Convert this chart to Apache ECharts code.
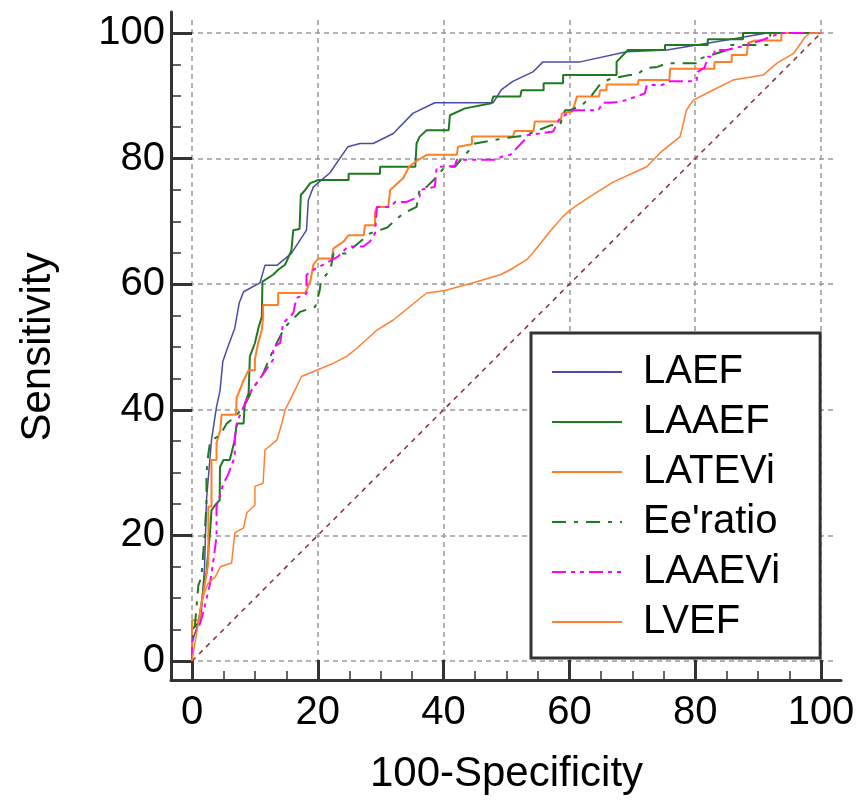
<!DOCTYPE html>
<html>
<head>
<meta charset="utf-8">
<script src="https://cdn.jsdelivr.net/npm/echarts@6/dist/echarts.min.js"></script>
<style>html,body{margin:0;padding:0;background:#fff;}#c{width:859px;height:800px;}</style>
</head>
<body>
<div id="c"></div>
<script>
const seriesNames = ['LAEF', 'LAAEF', 'LATEVi', "Ee'ratio", 'LAAEVi', 'LVEF'];
const xTickValues = [0, 20, 40, 60, 80, 100];
const yTickValues = [0, 20, 40, 60, 80, 100];

const LAEF = [[0,0],[0,3],[1,6],[1.5,8],[2,15],[2.2,22],[2.3,25.6],[3.1,35.2],[3.9,40.5],[4.45,43],[4.9,47.7],[5.7,50],[6.8,53],[7.5,57],[8.2,58.8],[10.8,60.2],[11.6,63],[13.5,63],[15.8,64.9],[18.2,68.6],[18.5,73.4],[19.3,75.5],[21.9,77.7],[24.8,81.9],[26.7,82.4],[28.8,82.4],[32,84],[35.1,87.2],[38.6,88.9],[47.9,88.9],[49.2,91],[51,92.3],[54.2,93.8],[55.8,95.4],[61.7,95.4],[69.1,97],[75.5,97.3],[85,98.9],[91.4,100],[100,100]];

const LAAEF = [[0,0],[0,5],[1,6],[1.5,9],[2,13],[2.3,14],[2.9,21],[3.1,24],[3.9,25.1],[4.4,25.6],[4.45,30.9],[5,32],[6,32],[6.8,35.2],[7.1,37.8],[8.2,37.8],[8.4,41],[9,42.6],[9.2,48.5],[10,50.6],[10.6,53.2],[11.1,54.8],[11.2,60.4],[12.9,61.5],[13.7,62.3],[14.8,63.1],[15.8,65.4],[16.1,68.6],[17.1,68.8],[17.3,74.2],[18,75],[18.8,76.1],[20.1,76.6],[24.9,76.6],[24.9,77.6],[29.9,77.6],[29.9,78.7],[35.5,78.7],[35.7,82.4],[36.2,83.5],[37.3,84.5],[40.8,84.5],[41,86.9],[43.4,88],[47.6,88.8],[47.9,89.9],[52.2,89.9],[52.4,90.9],[55.9,90.9],[55.9,92],[59,92],[59,93.3],[67.5,93.3],[67.5,95.4],[69.3,97.3],[75.2,97.3],[75.2,98.1],[82,98.1],[82,99],[87.6,99],[87.6,100],[100,100]];

const LATEVi = [[0,0],[0,6.5],[1.3,6.5],[1.3,8],[1.8,10.8],[2.6,15.6],[2.6,24.6],[3.1,24.6],[3.1,32],[3.9,32],[3.9,34.7],[4.5,36.8],[4.7,39.2],[7,39.2],[7.1,41.9],[8.2,44.7],[9,46.3],[10,46.3],[10,48],[10.5,50.6],[11.1,52.7],[11.3,54.8],[11.3,56.7],[13.7,56.7],[13.7,58.6],[18,58.6],[18.8,60.4],[19.3,63.1],[20.1,64.1],[22.2,64.1],[22.5,65.7],[24.1,66.8],[24.9,67.8],[27.3,67.8],[27.5,69.4],[29.1,69.4],[29.1,71.5],[29.4,72.3],[31.2,72.3],[31.5,75],[33.6,76.9],[34.5,78.7],[35.5,79.5],[37.3,80.6],[42.1,80.6],[42.3,81.9],[44.5,82.3],[44.5,83.5],[51,83.5],[51.3,84.4],[54.3,84.4],[54.5,85.9],[58.6,85.9],[58.8,87.2],[60.5,87.5],[61.2,89.9],[64.7,89.9],[64.9,90.9],[65.9,90.9],[65.9,91.8],[70.9,91.8],[71,92.5],[75.9,92.5],[76,94.3],[83,94.3],[83.1,95.4],[85.8,95.4],[85.8,96.5],[88.2,96.5],[88.4,98.4],[89.5,98.8],[93.7,98.8],[93.7,100],[100,100]];

const EeRatio = [[0,0],[0,3],[0.5,6],[1,12],[1.5,13.4],[2,20],[2.3,25],[2.3,30],[2.6,33],[2.9,35],[4.5,36],[5.5,37.8],[7,39],[8.5,41],[9.2,42.4],[9.5,43.2],[11.1,45.3],[12.9,49.5],[13.7,51.1],[14.8,53.2],[17.2,55.6],[19.6,56.4],[20.3,59],[20.5,60.5],[22,62.3],[22.5,64.9],[24.5,64.9],[28.3,68.1],[31,69],[33.6,71.3],[35.7,72.3],[36.2,75.2],[37.3,75.5],[38.6,76.8],[40.2,78.7],[41.8,78.7],[42.9,80],[45,82.4],[50,83.3],[53,83.7],[57,85.3],[58.5,85.3],[59.3,87.7],[60.1,87.7],[62,88.5],[63.5,90],[65,92],[66.5,92.7],[69.6,93.3],[70.7,93.3],[72,94.4],[74,94.6],[75.5,95.2],[80.8,95.2],[81,96],[85.1,97.3],[85.5,98.1],[91.5,98.1],[92,100],[100,100]];

const LAAEVi = [[0,0],[0,3],[0.8,5],[1.3,6],[2,8.6],[2.8,12],[3.4,16],[3.9,19.8],[3.9,24.6],[4.2,25.6],[5,28.3],[5.7,29.6],[6.8,32.5],[6.8,35.7],[7.3,38.4],[8.7,41.6],[9.5,43.2],[9.7,43.5],[11.6,46.1],[12.9,48],[12.9,50],[14,50.6],[14.5,53.8],[16.1,55.4],[16.6,57.8],[18.2,58.5],[18.2,61.5],[19.3,62.3],[20.3,62.8],[23.2,64.4],[24.8,66],[27.2,66],[28.3,66.8],[29.1,68.1],[29.4,72.3],[31.5,72.3],[32.3,73.1],[34.1,73.1],[36.2,74],[36.2,75],[38.6,75.5],[38.9,78.7],[41.8,78.8],[42.1,79.8],[48.4,79.8],[49.2,80.3],[50.6,80.6],[52.9,83],[53.2,83.7],[57.4,84.3],[58.5,86.5],[60.6,87.7],[64.6,87.7],[65.3,88.9],[68,89],[70.7,89.9],[72,90.4],[72.3,91.7],[74.7,91.7],[76,92.3],[80.2,92.3],[80.4,93.8],[81.5,94.5],[82,96.2],[83,96.2],[83.1,97.3],[85,97.3],[88,98],[91,99],[93.5,100],[100,100]];

const LVEF = [[0,0],[0.5,3],[1,6],[1.5,9],[2,11],[2.6,12.4],[3.7,13.4],[4.5,15],[6.3,15.6],[6.8,20.4],[8.2,21.2],[8.7,23.6],[10,24.8],[10,27.8],[11.3,28.3],[11.6,33.6],[13.5,35.2],[14.3,37.9],[14.8,40],[16.4,43.2],[17.4,45.3],[19.8,46.3],[22.4,47.4],[24.6,48.5],[26.2,49.8],[29.4,52.7],[32,54.3],[37.3,58.6],[40.2,59],[45,60.3],[49,61.5],[50.6,62.3],[53.2,63.9],[54.2,65],[57,68.5],[59,70.8],[60.1,71.8],[63,73.8],[67,76.3],[72.3,78.7],[74.4,80.9],[77.6,83.5],[78.6,87.7],[79.7,89.3],[83,91],[86,92.5],[90.8,93.3],[93,95.2],[95.6,96.7],[97.5,99.4],[98.3,100],[100,100]];

const diagonal = [[0,0],[100,100]];

const FONT = 'Liberation Sans';
const axisColor = '#333';
const gridLineStyle = { color: '#999', width: 1.5, type: [5, 4] };

function rocSeries(name, data, color, width, dash) {
  return {
    name: name, type: 'line', data: data, xAxisIndex: 0, yAxisIndex: 0,
    symbol: 'none', clip: false, animation: false,
    lineStyle: { color: color, width: width, type: dash || 'solid' },
    itemStyle: { color: color }
  };
}
function hiddenAxis(gridIndex) {
  return { type: 'value', gridIndex: gridIndex, min: 0, max: 100, show: false };
}

const chart = echarts.init(document.getElementById('c'));
chart.setOption({
  backgroundColor: '#fff',
  animation: false,
  grid: [
    { left: 192, top: 33, width: 629, height: 628 },   // data
    { left: 171, top: 12, width: 670, height: 668 },   // frame lines
    { left: 192, top: 20, width: 629, height: 660 },   // x ticks / vertical grid
    { left: 171, top: 33, width: 662, height: 628 }    // y ticks / horizontal grid
  ],
  xAxis: [
    { type: 'value', gridIndex: 0, min: 0, max: 100, interval: 20,
      axisLine: { show: false }, axisTick: { show: false }, axisLabel: { show: false }, splitLine: { show: false } },
    { type: 'value', gridIndex: 1, min: 0, max: 1,
      axisLine: { show: true, lineStyle: { color: axisColor, width: 3 } },
      axisTick: { show: false }, axisLabel: { show: false }, splitLine: { show: false } },
    { type: 'value', gridIndex: 2, min: 0, max: 100, interval: 20,
      axisLine: { show: false },
      axisTick: { show: true, inside: true, length: 19, lineStyle: { color: axisColor, width: 3 } },
      minorTick: { show: true, splitNumber: 4, length: 8, lineStyle: { color: axisColor, width: 1.5 } },
      axisLabel: { margin: 14, fontSize: 40, fontFamily: FONT, color: '#000',
        formatter: function (v) { return xTickValues.indexOf(v) >= 0 ? String(v) : ''; } },
      splitLine: { show: true, lineStyle: gridLineStyle },
      name: '100-Specificity', nameLocation: 'middle', nameGap: 74,
      nameTextStyle: { fontSize: 42, fontFamily: FONT, color: '#000' } },
    hiddenAxis(3)
  ],
  yAxis: [
    { type: 'value', gridIndex: 0, min: 0, max: 100, interval: 20,
      axisLine: { show: false }, axisTick: { show: false }, axisLabel: { show: false }, splitLine: { show: false } },
    { type: 'value', gridIndex: 1, min: 0, max: 1,
      axisLine: { show: true, lineStyle: { color: axisColor, width: 3 } },
      axisTick: { show: false }, axisLabel: { show: false }, splitLine: { show: false } },
    hiddenAxis(2),
    { type: 'value', gridIndex: 3, min: 0, max: 100, interval: 20,
      axisLine: { show: false },
      axisTick: { show: true, inside: true, length: 21, lineStyle: { color: axisColor, width: 3 } },
      minorTick: { show: true, splitNumber: 4, length: 10, lineStyle: { color: axisColor, width: 1.5 } },
      axisLabel: { margin: 6, fontSize: 40, fontFamily: FONT, color: '#000',
        formatter: function (v) { return yTickValues.indexOf(v) >= 0 ? String(v) : ''; } },
      splitLine: { show: true, lineStyle: gridLineStyle },
      name: 'Sensitivity', nameLocation: 'middle', nameGap: 112,
      nameTextStyle: { fontSize: 42, fontFamily: FONT, color: '#000' } }
  ],
  legend: {
    data: seriesNames,
    orient: 'vertical',
    left: 531, top: 333,
    padding: [19, 40, 16, 20],
    itemWidth: 70, itemHeight: 14, itemGap: 10,
    borderColor: axisColor, borderWidth: 3, backgroundColor: '#fff',
    itemStyle: { opacity: 0 },
    textStyle: { fontSize: 40, fontFamily: FONT, color: '#000', lineHeight: 40, padding: [0, 0, 0, 16] },
    selectedMode: false
  },
  series: [
    rocSeries('LAEF', LAEF, '#4b4ba8', 1.5),
    rocSeries('LAAEF', LAAEF, '#1f7a1f', 2),
    rocSeries('LATEVi', LATEVi, '#ff7f27', 2),
    rocSeries("Ee'ratio", EeRatio, '#1f7a1f', 2, [14, 8, 4, 8]),
    rocSeries('LAAEVi', LAAEVi, '#ff00ff', 2, [14, 5, 4, 5, 4, 5]),
    rocSeries('LVEF', LVEF, '#ff8033', 1.5),
    {
      name: 'ref', type: 'line', data: diagonal, xAxisIndex: 0, yAxisIndex: 0, symbol: 'none', clip: false,
      lineStyle: { color: '#8b2e2e', width: 1.5, type: [5, 5] }, z: 1
    }
  ]
});
</script>
</body>
</html>
